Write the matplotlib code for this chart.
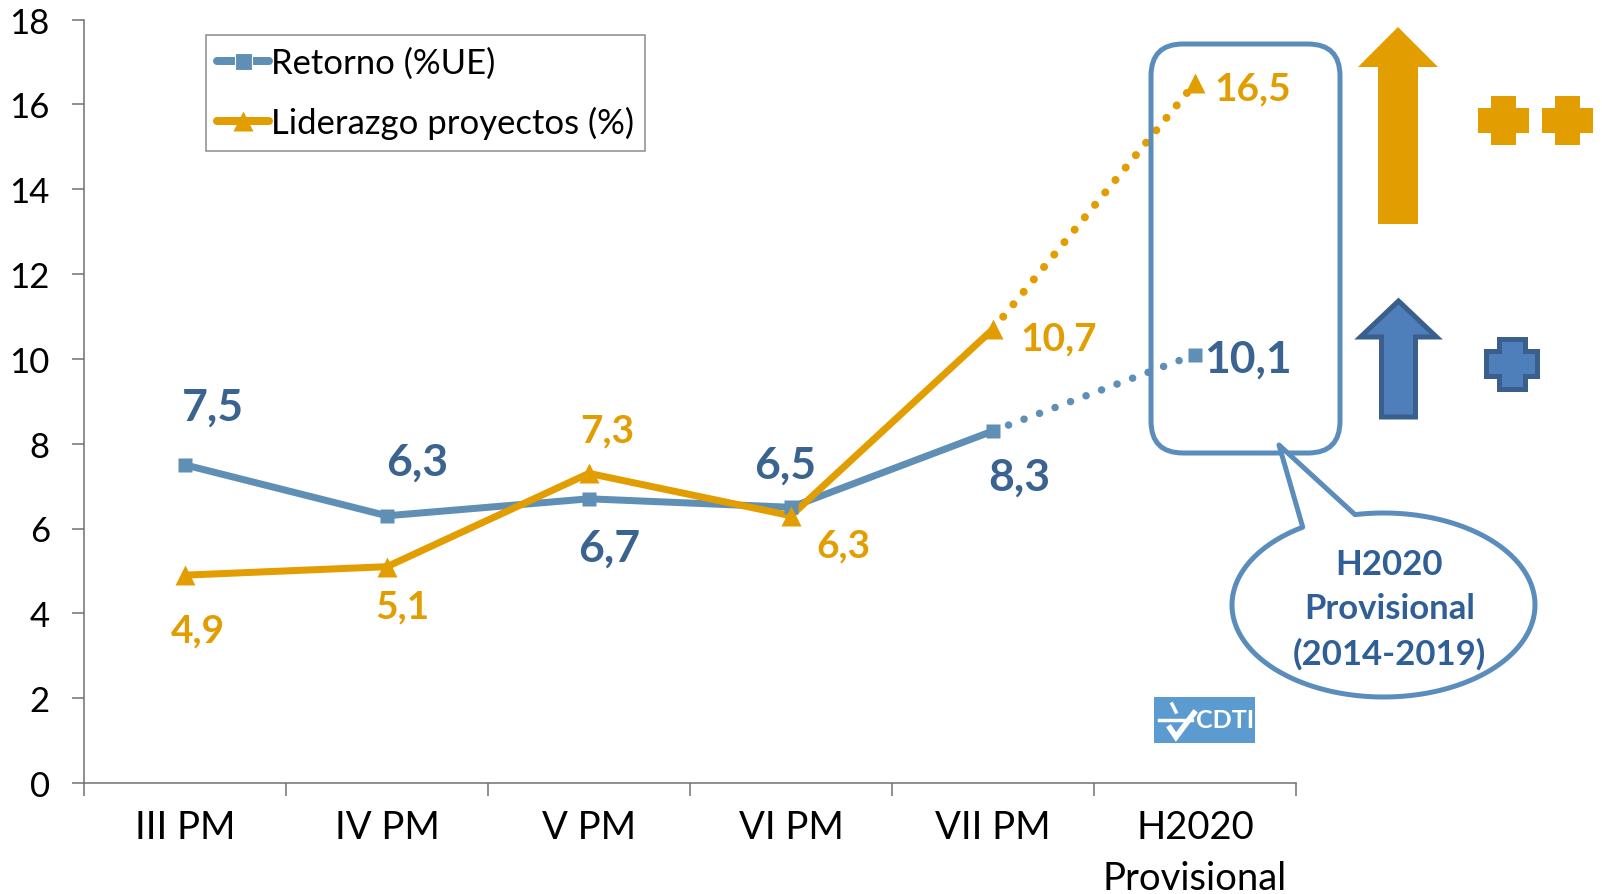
import numpy as np
import matplotlib
matplotlib.use("Agg")
import matplotlib.pyplot as plt
from matplotlib.patches import Polygon, FancyBboxPatch, Rectangle

plt.rcParams['font.family'] = ['Lato', 'DejaVu Sans']

categories = ['III PM', 'IV PM', 'V PM', 'VI PM', 'VII PM', 'H2020\nProvisional']
retorno = [7.5, 6.3, 6.7, 6.5, 8.3, 10.1]
liderazgo = [4.9, 5.1, 7.3, 6.3, 10.7, 16.5]
yticks = [0, 2, 4, 6, 8, 10, 12, 14, 16, 18]

BLUE = '#5F8FB4'
BLUE_TXT = '#3A638F'
ORANGE = '#E29D00'
BOX = '#5B8DBC'

W, H = 1602, 895
PT = 0.72  # px -> pt at dpi 100

fig = plt.figure(figsize=(W / 100, H / 100), dpi=100)
ax = fig.add_axes([84 / W, (H - 784) / H, 1212 / W, 763.5 / H])

x = np.arange(6) + 0.5

# solid part, dotted part for the last step
ax.plot(x[:5], retorno[:5], color=BLUE, lw=7 * PT, solid_capstyle='round', zorder=3)
ax.plot(x[4:], retorno[4:], color=BLUE, lw=7.5 * PT, ls=(0, (0.01, 2.2)),
        dash_capstyle='round', zorder=3)
ax.plot(x[:5], liderazgo[:5], color=ORANGE, lw=7 * PT, solid_capstyle='round', zorder=4)
ax.plot(x[4:], liderazgo[4:], color=ORANGE, lw=8 * PT, ls=(0, (0.01, 2.0)),
        dash_capstyle='round', zorder=4)
ax.plot(x, retorno, ls='none', marker='s', ms=14 * PT, color=BLUE, mec='none', zorder=5)
ax.plot(x, liderazgo, ls='none', marker='^', ms=20 * PT, color=ORANGE, mec='none', zorder=6)

# legend handles
h1, = ax.plot([], [], color=BLUE, lw=8 * PT, marker='s', ms=17 * PT, mec='white',
              mew=0.8, solid_capstyle='round')
h2, = ax.plot([], [], color=ORANGE, lw=8 * PT, marker='^', ms=20 * PT, mec='none',
              solid_capstyle='round')
leg = ax.legend([h1, h2], ['Retorno (%UE)', 'Liderazgo proyectos (%)'],
                loc='upper left', bbox_to_anchor=(206 / W, 1 - 36 / H),
                bbox_transform=fig.transFigure, fontsize=24.9, frameon=True, fancybox=False,
                edgecolor='#8C8C8C', framealpha=1, borderaxespad=0, borderpad=0.33,
                handlelength=1.5, handletextpad=0.05, labelspacing=0.8)
leg.get_frame().set_linewidth(1.1)

ax.set_xlim(0, 6)
ax.set_ylim(0, 18)
ax.set_yticks(yticks)
ax.set_xticks(np.arange(7))
ax.set_xticklabels([])
ax.set_xticks(x, categories, minor=True)
ax.tick_params(axis='x', which='major', length=13 * PT, width=1.1, color='#707070')
ax.tick_params(axis='x', which='minor', length=0, pad=19, labelsize=27.5)
ax.tick_params(axis='y', length=12 * PT, width=1.1, color='#707070', pad=16, labelsize=25)
for lab in ax.get_xticklabels(minor=True):
    lab.set_linespacing(1.5)
for s in ['top', 'right']:
    ax.spines[s].set_visible(False)
for s in ['left', 'bottom']:
    ax.spines[s].set_color('#707070')
    ax.spines[s].set_linewidth(1.1)

# data labels, offsets in px from the point
off_ret = [(28, 58), (30, 54), (20, -49), (-6, 43), (26, -46), (53, -4)]
off_lid = [(13, -55), (15, -39), (18, 43), (52, -29), (66, -9), (58, -5)]
for i, v in enumerate(retorno):
    ax.annotate(str(v).replace('.', ','), (x[i], v), xytext=(off_ret[i][0] * PT, off_ret[i][1] * PT),
                textcoords='offset points', ha='center', va='center', fontsize=32,
                fontweight='bold', color=BLUE_TXT, zorder=7)
for i, v in enumerate(liderazgo):
    ax.annotate(str(v).replace('.', ','), (x[i], v), xytext=(off_lid[i][0] * PT, off_lid[i][1] * PT),
                textcoords='offset points', ha='center', va='center', fontsize=28,
                fontweight='bold', color=ORANGE, zorder=7)

# overlay in pixels for the drawn shapes
ov = fig.add_axes([0, 0, 1, 1], facecolor='none')
ov.set_xlim(0, W)
ov.set_ylim(H, 0)
ov.axis('off')

ov.add_patch(FancyBboxPatch((1151 + 32, 45 + 32), 189 - 64, 409 - 64,
                            boxstyle='round,pad=32,rounding_size=32',
                            fc='none', ec=BOX, lw=5 * PT))


def arrow(cx, tip, base, bottom, head, shaft, **kw):
    pts = [(cx, tip), (cx + head, base), (cx + shaft, base), (cx + shaft, bottom),
           (cx - shaft, bottom), (cx - shaft, base), (cx - head, base)]
    ov.add_patch(Polygon(pts, closed=True, **kw))


def plus(x0, x1, xa, xb, y0, y1, ya, yb, **kw):
    pts = [(xa, y0), (xb, y0), (xb, ya), (x1, ya), (x1, yb), (xb, yb), (xb, y1),
           (xa, y1), (xa, yb), (x0, yb), (x0, ya), (xa, ya)]
    ov.add_patch(Polygon(pts, closed=True, **kw))


arrow(1398, 28, 68, 225, 40, 20, fc=ORANGE, ec='none')
arrow(1398.5, 302, 338, 418, 38, 17, fc='#4F7FBB', ec='#3A5F8C', lw=5 * PT)
plus(1478, 1529, 1491, 1516, 97, 146, 109, 134, fc=ORANGE, ec='none')
plus(1542, 1593, 1555, 1580, 97, 146, 109, 134, fc=ORANGE, ec='none')
plus(1486, 1537, 1499, 1525, 340, 390, 352, 377, fc='#4F7FBB', ec='#3A5F8C', lw=5 * PT)

# speech bubble
t = np.linspace(-1.76, 4.15, 200)
bub = np.column_stack([1383.5 + 151.5 * np.cos(t), 606 + 92 * np.sin(t)])
bub = np.vstack([bub, [[1279, 446]]])
ov.add_patch(Polygon(bub, closed=True, fc='white', ec=BOX, lw=5 * PT, joinstyle='round', zorder=2))
for yy, s in zip([565, 609, 654], ['H2020', 'Provisional', '(2014-2019)']):
    ov.text(1389.5, yy, s, ha='center', va='center', fontsize=25, fontweight='bold',
            color='#2F5F96', zorder=3)

# CDTI logo
ov.add_patch(Rectangle((1154, 698), 101, 46, fc='#5B9BD0', ec='none'))
ov.text(1225, 721, 'CDTI', ha='center', va='center', fontsize=18, fontweight='bold',
        color='white')
ov.plot([1159, 1192], [721, 721], color='white', lw=2.5)
ov.plot([1172, 1176], [705, 713], color='white', lw=2.5)
ov.plot([1170, 1176, 1194], [729, 738, 714], color='white', lw=4, solid_joinstyle='miter')

fig.savefig('out.png', dpi=100)
